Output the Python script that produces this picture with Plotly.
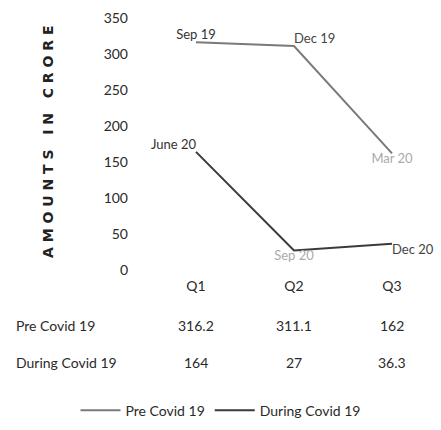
import plotly.graph_objects as go

# Quarterly amounts (in crore)
quarters = ["Q1", "Q2", "Q3"]
pre_covid = [316.2, 311.1, 162]
during_covid = [164, 27, 36.3]
pre_labels = ["Sep 19", "Dec 19", "Mar 20"]
during_labels = ["June 20", "Sep 20", "Dec 20"]
series_names = ["Pre Covid 19", "During Covid 19"]
y_ticks = [0, 50, 100, 150, 200, 250, 300, 350]

FONT = "Lato, Liberation Sans, sans-serif"
PRE_COLOR = "#7a7a7a"
DUR_COLOR = "#3a3a3a"
TEXT = "#2a2a2a"

fig = go.Figure()

fig.add_trace(go.Scatter(
    x=quarters, y=pre_covid, mode="lines+text", name=series_names[0],
    line=dict(color=PRE_COLOR, width=2),
    text=pre_labels,
    textposition=["top center", "top right", "bottom center"],
    textfont=dict(family=FONT, size=13, color=["#333", "#444", "#aaa"]),
    cliponaxis=False,
))
fig.add_trace(go.Scatter(
    x=quarters, y=during_covid, mode="lines+text", name=series_names[1],
    line=dict(color=DUR_COLOR, width=2),
    text=during_labels,
    textposition=["top left", "bottom center", "bottom right"],
    textfont=dict(family=FONT, size=13, color=["#333", "#aaa", "#444"]),
    cliponaxis=False,
))

# Data table below the category axis, one row per series
annotations = []
row_offsets = [-55, -92]
for name, vals, off in zip(series_names, [pre_covid, during_covid], row_offsets):
    annotations.append(dict(
        text=name, xref="paper", yref="paper", x=0, y=0, xshift=-133, yshift=off,
        showarrow=False, xanchor="left", yanchor="middle",
        font=dict(family=FONT, size=14, color=TEXT),
    ))
    for q, v in zip(quarters, vals):
        annotations.append(dict(
            text=f"{v:g}", xref="x", yref="paper", x=q, y=0, yshift=off,
            showarrow=False, xanchor="center", yanchor="middle",
            font=dict(family=FONT, size=14, color=TEXT),
        ))

# Rotated axis title
annotations.append(dict(
    text="<b>A M O U N T S   I N   C R O R E</b>", xref="paper", yref="paper",
    x=0, y=0.5, xshift=-99, yshift=2, textangle=-90, showarrow=False,
    xanchor="center", yanchor="middle",
    font=dict(family="DejaVu Sans", size=14, color="#222"),
))

fig.update_layout(
    width=441, height=430,
    margin=dict(l=147, r=0, t=18, b=160),
    plot_bgcolor="white", paper_bgcolor="white",
    showlegend=True,
    legend=dict(orientation="h", xref="container", x=0.5, xanchor="center",
                yref="container", y=0.045, yanchor="middle",
                font=dict(family=FONT, size=14, color=TEXT),
                itemwidth=40, tracegroupgap=0),
    annotations=annotations,
)
fig.update_xaxes(
    type="category", range=[-0.5, 2.5], showgrid=False, zeroline=False,
    showline=False, ticks="", tickfont=dict(family=FONT, size=14, color=TEXT),
    ticklabelstandoff=6,
)
fig.update_yaxes(
    range=[0, 350], tickvals=y_ticks, showgrid=False, zeroline=False,
    showline=False, ticks="", tickfont=dict(family=FONT, size=14, color=TEXT),
    ticklabelstandoff=18,
)

fig.write_html("out.html")
